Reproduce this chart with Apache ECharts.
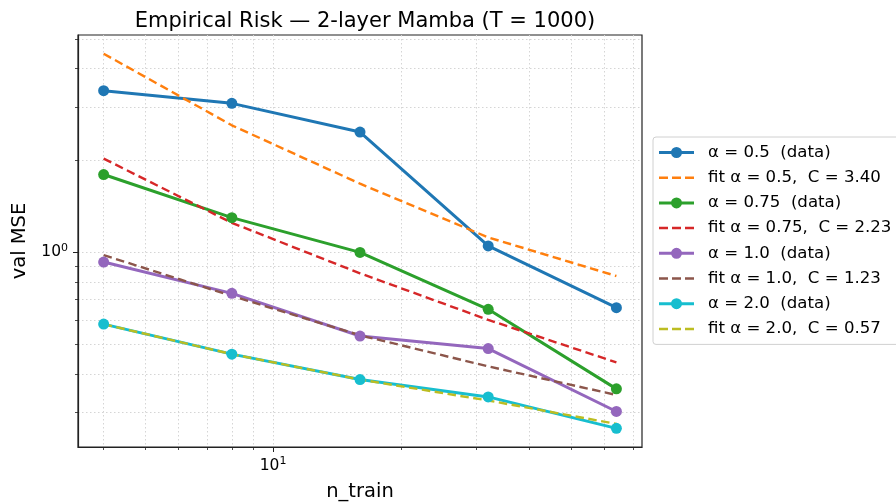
<!DOCTYPE html>
<html>
<head>
<meta charset="utf-8">
<script src="https://cdn.jsdelivr.net/npm/echarts@6/dist/echarts.min.js"></script>
<style>
html, body { margin: 0; padding: 0; background: #fff; }
#chart { width: 896px; height: 502px; }
</style>
</head>
<body>
<div id="chart"></div>
<script>
// n_train values (x, log scale)
const nTrain = [4, 8, 16, 32, 64];

// val MSE
const a05Data = [3.39, 3.08, 2.48, 1.05, 0.659];
const a05Fit = [4.48, 2.61, 1.68, 1.12, 0.837];
const a075Data = [1.80, 1.30, 1.00, 0.651, 0.357];
const a075Fit = [2.03, 1.25, 0.854, 0.601, 0.436];
const a10Data = [0.930, 0.734, 0.532, 0.484, 0.301];
const a10Fit = [0.98, 0.72, 0.535, 0.423, 0.341];
const a20Data = [0.582, 0.464, 0.383, 0.336, 0.265];
const a20Fit = [0.582, 0.464, 0.383, 0.327, 0.274];

// tick positions
const xMajorTicks = [10];
const xMinorTicks = [4, 5, 6, 7, 8, 9, 20, 30, 40, 50, 60, 70];
const yMajorTicks = [1];
const yMinorTicks = [0.3, 0.4, 0.5, 0.6, 0.7, 0.8, 0.9, 2, 3, 4, 5];
const xMajorExp = { 10: '1' };
const yMajorExp = { 1: '0' };

const seriesNames = [
    'α = 0.5  (data)', 'fit α = 0.5,  C = 3.40',
    'α = 0.75  (data)', 'fit α = 0.75,  C = 2.23',
    'α = 1.0  (data)', 'fit α = 1.0,  C = 1.23',
    'α = 2.0  (data)', 'fit α = 2.0,  C = 0.57'
];
const seriesValues = [a05Data, a05Fit, a075Data, a075Fit, a10Data, a10Fit, a20Data, a20Fit];
const seriesColors = ['#1f77b4', '#ff7f0e', '#2ca02c', '#d62728', '#9467bd', '#8c564b', '#17becf', '#bcbd22'];

const FONT = 'DejaVu Sans';
const gridLine = { show: true, lineStyle: { color: '#d5d5d5', width: 1, type: [1.5, 2.5] } };
// legend handles: line with dot, dashed line
const dotIcon = 'path://M0,4H13V7H0Z M22,4H35V7H22Z M12,5.5a5.5,5.5 0 1 1 11,0a5.5,5.5 0 1 1 -11,0Z';
const dashIcon = 'path://M0,0H9V2.5H0Z M13,0H22V2.5H13Z M26,0H35V2.5H26Z';
// 10^k tick label as rich text
const powRich = {
    b: { fontFamily: FONT, fontSize: 15.5, lineHeight: 20, color: '#000' },
    s: { fontFamily: FONT, fontSize: 11, lineHeight: 11, color: '#000', verticalAlign: 'top' }
};

let chart = echarts.init(document.getElementById('chart'));

let series = seriesValues.map(function (vals, i) {
    let isFit = i % 2 === 1;
    return {
        name: seriesNames[i],
        type: 'line',
        xAxisIndex: 0,
        yAxisIndex: 0,
        data: nTrain.map(function (n, k) { return [n, vals[k]]; }),
        symbol: isFit ? 'none' : 'circle',
        symbolSize: 11,
        itemStyle: { color: seriesColors[i], borderWidth: 0 },
        lineStyle: isFit
            ? { color: seriesColors[i], width: 2.4, type: [8.5, 4.5] }
            : { color: seriesColors[i], width: 3 },
        emphasis: { disabled: true }
    };
});

let option = {
    animation: false,
    backgroundColor: '#fff',
    textStyle: { fontFamily: FONT },
    title: {
        text: 'Empirical Risk — 2-layer Mamba (T = 1000)',
        left: 360,
        top: 6,
        textAlign: 'center',
        textStyle: { fontFamily: FONT, fontSize: 21, fontWeight: 'normal', color: '#000' }
    },
    grid: {
        left: 78, right: 254, top: 35, bottom: 55,
        outerBoundsMode: 'none',
        show: true, borderColor: '#222', borderWidth: 1.2, backgroundColor: 'transparent'
    },
    legend: {
        orient: 'vertical',
        left: 653,
        top: 137,
        padding: [7, 14, 7, 6],
        itemWidth: 35,
        itemHeight: 14,
        itemGap: 8.2,
        borderColor: '#d0d0d0',
        borderWidth: 1,
        borderRadius: 3,
        backgroundColor: '#fff',
        itemStyle: { borderWidth: 0 },
        textStyle: { fontFamily: FONT, fontSize: 16.6, color: '#000', lineHeight: 17, padding: [0, 0, 0, 9] },
        data: seriesNames.map(function (nm, i) {
            return { name: nm, icon: i % 2 === 1 ? dashIcon : dotIcon };
        })
    },
    xAxis: [{
        type: 'log',
        logBase: 10,
        min: 3.482,
        max: 73.5,
        position: 'bottom',
        name: 'n_train',
        nameLocation: 'middle',
        nameGap: 35,
        nameTextStyle: { fontFamily: FONT, fontSize: 19.5, color: '#000' },
        axisLine: { show: true, lineStyle: { color: '#222', width: 1.2 } },
        axisTick: { show: true, length: 5, customValues: xMajorTicks, lineStyle: { color: '#222', width: 1 } },
        axisLabel: {
            show: true, margin: 9, customValues: xMajorTicks,
            rich: powRich,
            formatter: function (v) {
                let e = xMajorExp[Math.round(v)];
                return e ? '{b|10}{s|' + e + '}' : '';
            }
        },
        splitLine: gridLine
    }, {
        type: 'log',
        logBase: 10,
        min: 3.482,
        max: 73.5,
        position: 'bottom',
        offset: 0,
        axisLine: { show: false },
        axisTick: { show: true, length: 3, customValues: xMinorTicks, lineStyle: { color: '#222', width: 0.8 } },
        axisLabel: { show: false },
        splitLine: gridLine
    }],
    yAxis: [{
        type: 'log',
        logBase: 10,
        min: 0.2302,
        max: 5.16,
        position: 'left',
        name: 'val MSE',
        nameLocation: 'middle',
        nameGap: 47,
        nameTextStyle: { fontFamily: FONT, fontSize: 19.5, color: '#000' },
        axisLine: { show: true, lineStyle: { color: '#222', width: 1.2 } },
        axisTick: { show: true, length: 5, customValues: yMajorTicks, lineStyle: { color: '#222', width: 1 } },
        axisLabel: {
            show: true, margin: 10, customValues: yMajorTicks,
            rich: powRich,
            formatter: function (v) {
                let e = yMajorExp[Math.round(v * 100) / 100];
                return e ? '{b|10}{s|' + e + '}' : '';
            }
        },
        splitLine: gridLine
    }, {
        type: 'log',
        logBase: 10,
        min: 0.2302,
        max: 5.16,
        position: 'left',
        offset: 0,
        axisLine: { show: false },
        axisTick: { show: true, length: 3, customValues: yMinorTicks, lineStyle: { color: '#222', width: 0.8 } },
        axisLabel: { show: false },
        splitLine: gridLine
    }],
    series: series
};

chart.setOption(option);
</script>
</body>
</html>
